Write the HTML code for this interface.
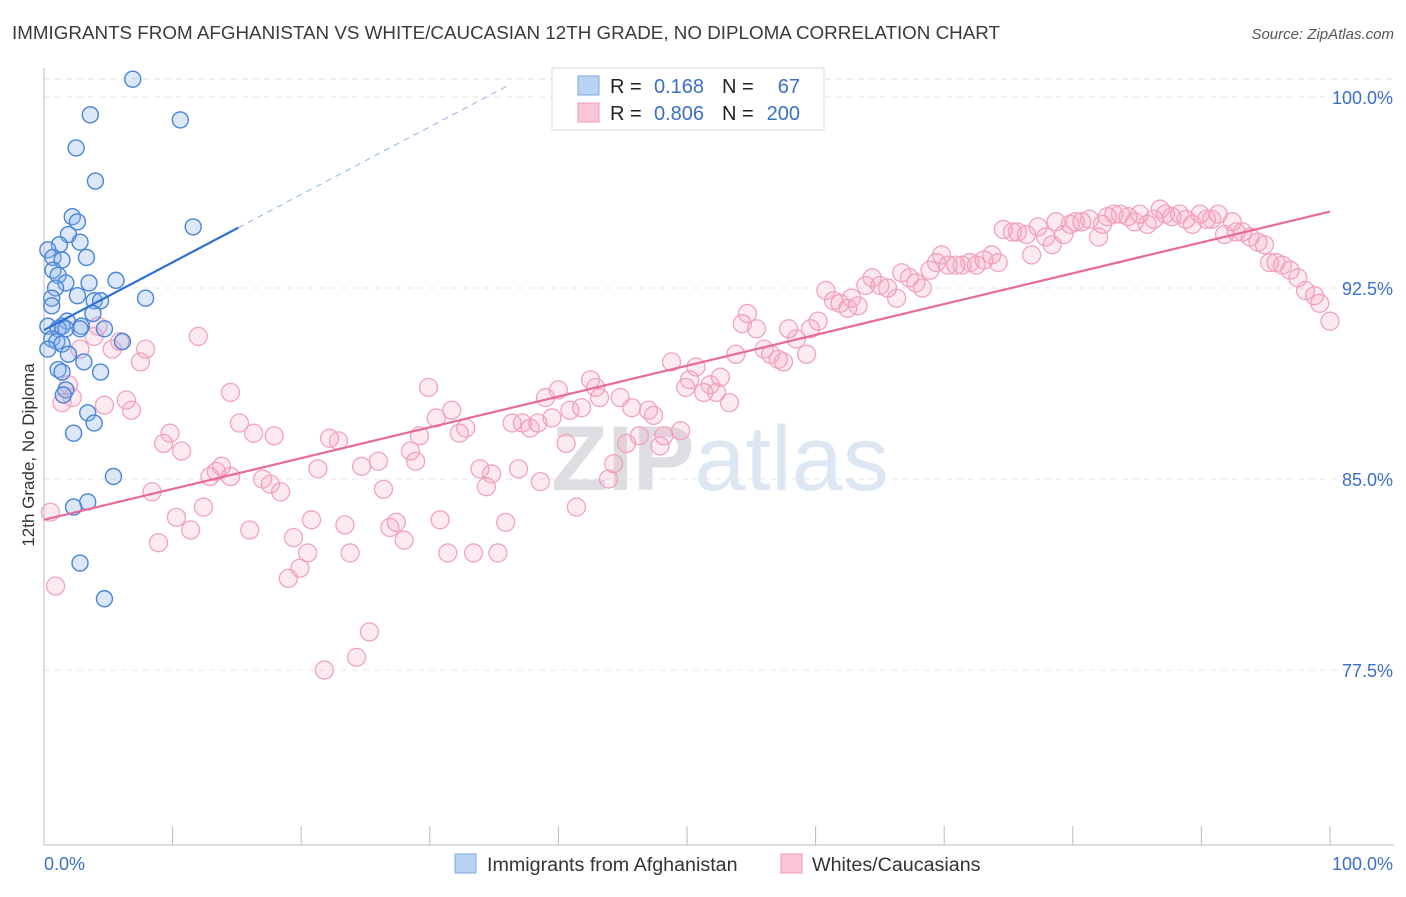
<!DOCTYPE html>
<html><head><meta charset="utf-8">
<style>
body{margin:0;background:#fff;font-family:"Liberation Sans",sans-serif;}
svg text{font-family:"Liberation Sans",sans-serif;}
</style></head>
<body>
<svg id="chart" width="1406" height="892" viewBox="0 0 1406 892" xmlns="http://www.w3.org/2000/svg">
<text x="12" y="39" font-size="18.6" fill="#3a3a3a" textLength="988" lengthAdjust="spacingAndGlyphs">IMMIGRANTS FROM AFGHANISTAN VS WHITE/CAUCASIAN 12TH GRADE, NO DIPLOMA CORRELATION CHART</text>
<text x="1394" y="39" font-size="15" fill="#555" font-style="italic" text-anchor="end">Source: ZipAtlas.com</text>
<text x="720" y="490" font-size="92" text-anchor="middle" fill="#e8e8ec"><tspan font-weight="bold" fill="#dedee2">ZIP</tspan><tspan fill="#dde6f3">atlas</tspan></text>
<g id="grid"></g>
<g id="axes"></g>
<g id="pinkPts"></g>
<g id="bluePts"></g>
<g id="trends"></g>
<text transform="translate(34,455) rotate(-90)" font-size="17" fill="#333" text-anchor="middle">12th Grade, No Diploma</text>
<g>
<rect x="552" y="68" width="272" height="62" fill="#fff" stroke="#ddd"/>
<rect x="578" y="76" width="21" height="19" fill="#b9d3f5" stroke="#7ea8e6"/>
<rect x="578" y="103" width="21" height="19" fill="#f9c6d6" stroke="#ee9ab5"/>
<text x="610" y="93" font-size="20" fill="#222">R = </text><text x="704" y="93" font-size="20" fill="#3a70c8" text-anchor="end">0.168</text>
<text x="722" y="93" font-size="20" fill="#222">N = </text><text x="800" y="93" font-size="20" fill="#3a70c8" text-anchor="end">67</text>
<text x="610" y="120" font-size="20" fill="#222">R = </text><text x="704" y="120" font-size="20" fill="#3a70c8" text-anchor="end">0.806</text>
<text x="722" y="120" font-size="20" fill="#222">N = </text><text x="800" y="120" font-size="20" fill="#3a70c8" text-anchor="end">200</text>
</g>
<g>
<rect x="455" y="854" width="21" height="19" fill="#b9d3f5" stroke="#7ea8e6"/>
<text x="487" y="871" font-size="19.7" fill="#333">Immigrants from Afghanistan</text>
<rect x="781" y="854" width="21" height="19" fill="#f9c6d6" stroke="#ee9ab5"/>
<text x="812" y="871" font-size="19.7" fill="#333">Whites/Caucasians</text>
</g>
</svg>
<script>
const yTicks=[100,92.5,85,77.5];
const yTickLabels=["100.0%","92.5%","85.0%","77.5%"];
const xTickLabels=["0.0%","100.0%"];
const blueX=[6.9,3.6,10.6,2.5,4.0,11.6,2.2,2.6,1.9,2.8,1.2,0.3,3.3,0.7,1.4,0.7,1.1,5.6,3.5,1.7,0.9,0.6,2.6,7.9,3.9,4.4,0.6,3.8,1.8,2.9,1.4,0.3,1.1,2.8,4.7,1.7,0.6,1.0,6.1,1.4,0.3,1.9,3.1,1.1,4.4,1.4,1.7,1.5,3.4,3.9,2.3,5.4,3.4,2.3,2.8,4.7];
const blueY=[100.7,99.3,99.1,98.0,96.7,94.9,95.3,95.1,94.6,94.3,94.2,94.0,93.7,93.7,93.6,93.2,93.0,92.8,92.7,92.7,92.5,92.1,92.2,92.1,92.0,92.0,91.8,91.5,91.2,91.0,91.0,91.0,90.9,90.9,90.9,90.9,90.5,90.4,90.4,90.3,90.1,89.9,89.6,89.3,89.2,89.2,88.5,88.3,87.6,87.2,86.8,85.1,84.1,83.9,81.7,80.3];
const pinkX=[0.5,0.9,1.4,1.9,2.2,2.8,3.9,4.2,4.7,5.3,5.9,6.4,6.8,7.5,7.9,8.4,8.9,9.3,9.8,10.3,10.7,11.4,12.0,12.4,12.9,13.4,13.8,14.5,14.5,15.2,16.0,16.3,17.0,17.6,17.9,18.4,19.0,19.4,19.9,20.5,20.8,21.3,22.2,22.9,23.4,23.8,24.7,25.3,26.0,24.3,26.4,26.9,27.4,28.0,28.5,28.9,29.2,29.9,30.5,30.8,31.4,31.7,32.3,32.8,33.4,33.9,34.4,34.8,35.3,35.9,36.4,36.9,37.2,37.8,38.4,38.6,39.0,39.5,40.0,40.6,40.9,41.4,41.8,42.5,42.9,43.2,43.9,44.3,44.8,45.3,45.7,46.3,47.0,47.4,47.9,48.2,48.8,49.5,49.9,50.2,50.7,51.3,51.8,52.3,52.6,53.3,53.8,54.3,54.7,55.4,56.0,56.5,57.1,57.5,57.9,58.5,59.3,59.6,60.2,60.8,61.4,61.9,62.5,62.8,63.3,63.9,64.4,65.0,65.6,66.3,66.7,67.3,67.8,68.3,68.9,69.4,69.8,70.3,70.9,71.4,72.0,72.5,73.1,73.7,74.2,74.6,75.3,75.7,76.4,76.8,77.3,77.9,78.4,78.7,79.3,79.8,80.2,80.7,81.3,82.0,82.3,82.7,83.2,83.7,84.3,84.8,85.2,85.8,86.3,86.8,87.2,87.7,88.3,88.8,89.3,89.9,90.4,90.8,91.3,91.8,92.4,92.7,93.2,93.8,94.4,94.9,95.3,95.8,96.3,96.9,97.5,98.1,98.8,99.2,100.0,21.8];
const pinkY=[83.7,80.8,88.0,88.7,88.2,90.1,90.6,91.0,87.9,90.1,90.4,88.1,87.7,89.6,90.1,84.5,82.5,86.4,86.8,83.5,86.1,83.0,90.6,83.9,85.1,85.3,85.5,85.1,88.4,87.2,83.0,86.8,85.0,84.8,86.7,84.5,81.1,82.7,81.5,82.1,83.4,85.4,86.6,86.5,83.2,82.1,85.5,79.0,85.7,78.0,84.6,83.1,83.3,82.6,86.1,85.7,86.7,88.6,87.4,83.4,82.1,87.7,86.8,87.0,82.1,85.4,84.7,85.2,82.1,83.3,87.2,85.4,87.2,87.0,87.2,84.9,88.2,87.4,88.5,86.4,87.7,83.9,87.8,88.9,88.6,88.2,85.0,85.6,88.2,86.4,87.8,86.7,87.7,87.5,86.3,86.7,89.6,86.9,88.6,88.9,89.4,88.4,88.7,88.4,89.0,88.0,89.9,91.1,91.5,90.9,90.1,89.9,89.7,89.6,90.9,90.5,89.9,90.9,91.2,92.4,92.0,91.9,91.7,92.1,91.8,92.6,92.9,92.6,92.5,92.1,93.1,92.9,92.7,92.5,93.2,93.5,93.8,93.4,93.4,93.4,93.5,93.4,93.6,93.8,93.5,94.8,94.7,94.7,94.6,93.8,94.9,94.5,94.2,95.1,94.6,95.0,95.1,95.1,95.2,94.5,95.0,95.3,95.4,95.4,95.3,95.1,95.4,95.0,95.2,95.6,95.4,95.3,95.4,95.2,95.0,95.4,95.2,95.2,95.4,94.6,95.1,94.7,94.7,94.5,94.3,94.2,93.5,93.5,93.4,93.2,92.9,92.4,92.2,91.9,91.2,77.5];
const blueTrend=[90.85,0.266];   // intercept, slope
const pinkTrend=[83.4,0.121];

const NS="http://www.w3.org/2000/svg";
const X=v=>44+v*12.86;
const Y=v=>97+(100-v)*25.47;
function mk(tag,attrs,parent){const e=document.createElementNS(NS,tag);for(const k in attrs)e.setAttribute(k,attrs[k]);parent.appendChild(e);return e;}
const grid=document.getElementById('grid'),axes=document.getElementById('axes');
mk('line',{x1:44,x2:1394,y1:79,y2:79,stroke:'#ddd','stroke-dasharray':'6,5'},grid);
yTicks.forEach((t,i)=>{
  const l=mk('line',{x1:44,x2:1394,y1:Y(t),y2:Y(t),stroke:'#e6e6e6','stroke-dasharray':'6,5'},grid);
  
  
  const tx=mk('text',{x:1393,y:Y(t)+7,'font-size':18,fill:'#3a70c8','text-anchor':'end'},axes);
  tx.textContent=yTickLabels[i];
  
  
});
mk('line',{x1:44,x2:44,y1:68,y2:845,stroke:'#bbb'},axes);
mk('line',{x1:44,x2:1394,y1:845,y2:845,stroke:'#bbb'},axes);
for(let i=0;i<=10;i++){const t=mk('line',{x1:X(i*10),x2:X(i*10),y1:826,y2:845,stroke:'#bbb'},axes);}
const xl0=mk('text',{x:44,y:870,'font-size':18,fill:'#3a70c8'},axes);xl0.textContent=xTickLabels[0];

const xl1=mk('text',{x:1393,y:870,'font-size':18,fill:'#3a70c8','text-anchor':'end'},axes);xl1.textContent=xTickLabels[1];

const pg=document.getElementById('pinkPts');
pinkX.forEach((x,i)=>{const c=mk('circle',{cx:X(x),cy:Y(pinkY[i]),r:9,fill:'rgba(244,160,190,0.22)',stroke:'#f0a3be','stroke-width':1.3},pg);

});
const bg=document.getElementById('bluePts');
blueX.forEach((x,i)=>{const c=mk('circle',{cx:X(x),cy:Y(blueY[i]),r:8,fill:'rgba(140,180,235,0.3)',stroke:'#4a84d8','stroke-width':1.4},bg);

});
const tg=document.getElementById('trends');
const bf=v=>blueTrend[0]+blueTrend[1]*v, pf=v=>pinkTrend[0]+pinkTrend[1]*v;
const bt=mk('line',{x1:X(0),y1:Y(bf(0)),x2:X(15.1),y2:Y(bf(15.1)),stroke:'#2f6fd6','stroke-width':2.2},tg);

const bd=mk('line',{x1:X(15.1),y1:Y(bf(15.1)),x2:X(36.2),y2:Y(bf(36.2)),stroke:'#8fb3e8','stroke-width':1,'stroke-dasharray':'6,5'},tg);

const pt=mk('line',{x1:X(0),y1:Y(pf(0)),x2:X(100),y2:Y(pf(100)),stroke:'#e86a98','stroke-width':2.2},tg);

</script>
</body></html>
